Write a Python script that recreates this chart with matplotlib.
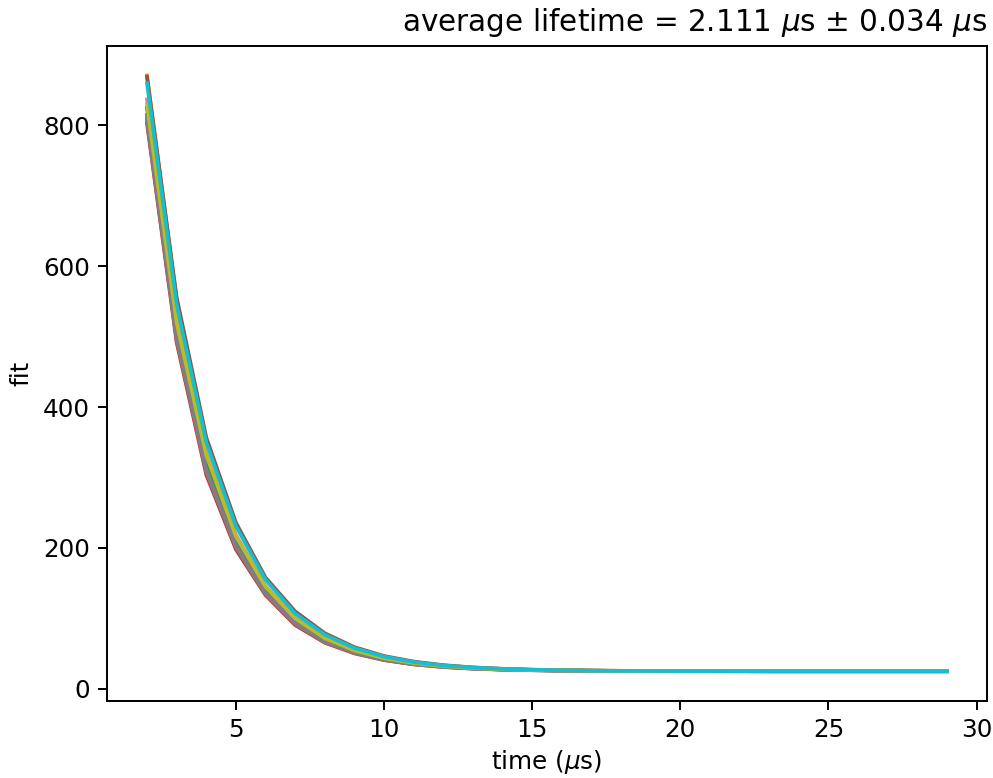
import matplotlib
matplotlib.use("Agg")
import matplotlib.pyplot as plt

time_us = [2, 3, 4, 5, 6, 7, 8, 9, 10, 11, 12, 13, 14, 15, 16,
           17, 18, 19, 20, 21, 22, 23, 24, 25, 26, 27, 28, 29]

fit_1 = [825.0, 515.0, 327.0, 213.0, 143.0, 98.5, 71.0, 54.0, 43.2, 36.5, 32.2, 29.6, 27.9, 26.8, 26.1,
         25.7, 25.4, 25.3, 25.2, 25.1, 25.1, 25.0, 25.0, 25.0, 25.0, 25.0, 25.0, 25.0]
fit_2 = [871.0, 553.0, 354.0, 233.0, 156.0, 107.5, 77.0, 57.6, 45.5, 37.9, 33.1, 30.1, 28.2, 27.0, 26.3,
         25.8, 25.5, 25.3, 25.2, 25.1, 25.1, 25.0, 25.0, 25.0, 25.0, 25.0, 25.0, 25.0]
fit_3 = [815.0, 504.0, 316.0, 206.0, 138.5, 95.0, 68.5, 52.2, 41.9, 35.5, 31.5, 29.1, 27.5, 26.6, 25.9,
         25.6, 25.4, 25.2, 25.1, 25.1, 25.0, 25.0, 25.0, 25.0, 25.0, 25.0, 25.0, 25.0]
fit_4 = [803.0, 492.0, 304.0, 198.0, 133.0, 90.5, 65.5, 50.3, 40.7, 34.7, 30.9, 28.6, 27.2, 26.4, 25.9,
         25.5, 25.3, 25.2, 25.1, 25.1, 25.0, 25.0, 25.0, 25.0, 25.0, 25.0, 25.0, 25.0]
fit_5 = [810.0, 499.0, 311.0, 203.5, 136.0, 93.3, 67.3, 51.5, 41.4, 35.1, 31.3, 28.9, 27.4, 26.5, 25.9,
         25.6, 25.4, 25.2, 25.1, 25.1, 25.0, 25.0, 25.0, 25.0, 25.0, 25.0, 25.0, 25.0]
fit_6 = [869.0, 556.0, 357.0, 236.0, 158.0, 110.0, 79.0, 59.2, 46.6, 38.7, 33.6, 30.4, 28.5, 27.2, 26.4,
         25.9, 25.6, 25.4, 25.2, 25.1, 25.1, 25.0, 25.0, 25.0, 25.0, 25.0, 25.0, 25.0]
fit_7 = [837.0, 525.0, 335.0, 218.5, 146.0, 100.5, 72.0, 54.2, 43.2, 36.3, 32.1, 29.4, 27.7, 26.7, 26.1,
         25.7, 25.4, 25.3, 25.2, 25.1, 25.1, 25.0, 25.0, 25.0, 25.0, 25.0, 25.0, 25.0]
fit_8 = [807.0, 496.0, 308.0, 201.0, 134.5, 92.0, 66.5, 50.9, 41.0, 34.9, 31.1, 28.8, 27.3, 26.4, 25.9,
         25.5, 25.3, 25.2, 25.1, 25.1, 25.0, 25.0, 25.0, 25.0, 25.0, 25.0, 25.0, 25.0]
fit_9 = [830.0, 520.0, 332.0, 216.5, 145.0, 100.0, 72.0, 54.5, 43.5, 36.6, 32.2, 29.5, 27.8, 26.8, 26.1,
         25.7, 25.4, 25.3, 25.2, 25.1, 25.1, 25.0, 25.0, 25.0, 25.0, 25.0, 25.0, 25.0]
fit_10 = [860.0, 546.0, 350.0, 231.0, 155.0, 107.0, 77.0, 57.9, 45.7, 38.0, 33.2, 30.2, 28.3, 27.1, 26.3,
          25.8, 25.5, 25.3, 25.2, 25.1, 25.1, 25.0, 25.0, 25.0, 25.0, 25.0, 25.0, 25.0]

fits = [fit_1, fit_2, fit_3, fit_4, fit_5, fit_6, fit_7, fit_8, fit_9, fit_10]

title_text = r"average lifetime = 2.111 $\mu$s $\pm$ 0.034 $\mu$s"
x_label = r"time ($\mu$s)"
y_label = "fit"

W, H = 993, 778
DPI = 177
fig = plt.figure(figsize=(W / DPI, H / DPI), dpi=DPI)
ax = fig.add_axes([107 / W, 1 - 701 / H, (987 - 107) / W, (701 - 45.7) / H])

for f in fits:
    ax.plot(time_us, f, linewidth=1.5)

ax.set_yticks([0, 200, 400, 600, 800])
ax.set_xticks([5, 10, 15, 20, 25, 30])
ax.set_xlabel(x_label, fontsize=10, labelpad=2.5)
ax.set_ylabel(y_label, fontsize=10)
ax.set_title(title_text, loc="right", fontsize=12)

fig.savefig("out.png", dpi=DPI)
